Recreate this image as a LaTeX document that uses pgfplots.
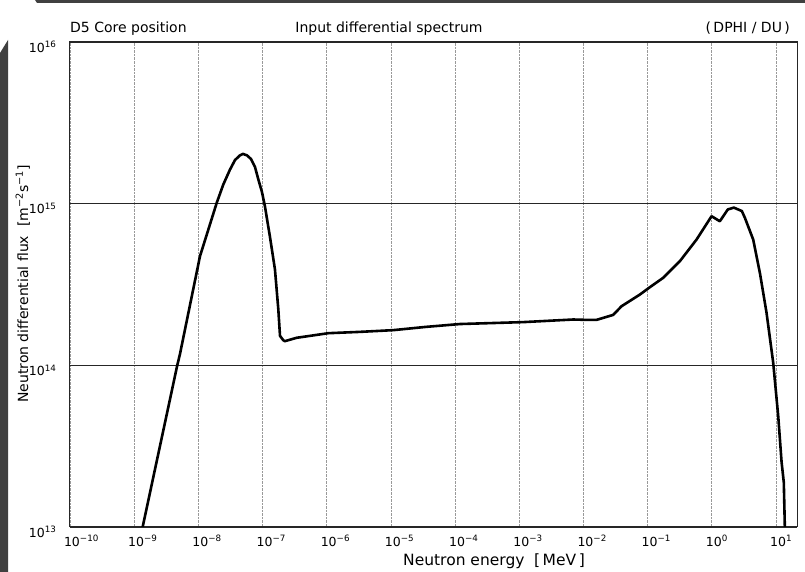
\documentclass[border=0pt]{standalone}
\usepackage{fontspec}
\setmainfont{DejaVu Sans}
\usepackage{pgfplots}
\usepackage{pgfplotstable}
\pgfplotsset{compat=1.18}

% Input differential spectrum, D5 core position (energy in MeV, flux in m^-2 s^-1)
\pgfplotstableread{
E         phi
1.355e-9  1.00e13
4.69e-9   1.00e14
5.16e-9   1.17e14
1.06e-8   4.73e14
1.93e-8   1.01e15
2.44e-8   1.31e15
3.10e-8   1.62e15
3.72e-8   1.86e15
4.45e-8   1.99e15
4.95e-8   2.03e15
5.71e-8   1.99e15
6.59e-8   1.89e15
7.61e-8   1.69e15
8.48e-8   1.44e15
9.79e-8   1.18e15
1.09e-7   9.60e14
1.30e-7   6.28e14
1.56e-7   3.92e14
1.76e-7   2.22e14
1.87e-7   1.52e14
2.10e-7   1.43e14
2.23e-7   1.41e14
3.40e-7   1.48e14
4.31e-7   1.50e14
1.06e-6   1.58e14
3.29e-6   1.61e14
1.09e-5   1.65e14
3.60e-5   1.73e14
1.19e-4   1.80e14
1.15e-3   1.85e14
6.92e-3   1.92e14
1.12e-2   1.91e14
1.60e-2   1.91e14
2.90e-2   2.05e14
3.92e-2   2.32e14
7.57e-2   2.74e14
0.108     3.04e14
0.175     3.48e14
0.318     4.41e14
0.578     6.00e14
0.989     8.36e14
1.33      7.78e14
1.77      9.20e14
2.20      9.45e14
2.93      9.00e14
3.27      8.17e14
4.40      6.00e14
5.60      3.73e14
7.11      2.11e14
9.02      1.04e14
10.8      4.86e13
12.2      2.51e13
13.2      1.89e13
13.7      1.00e13
}\spectrum

% tick label: "10" centred on the tick, exponent hanging to the right
\newcommand\tl[1]{10\rlap{\textsuperscript{#1}}}
\newcommand\lbl{\fontsize{14bp}{16bp}\selectfont}

\begin{document}
\begin{tikzpicture}[x=1bp,y=1bp]
\useasboundingbox (0,0) rectangle (805,572);
% dark scan edges
\fill[black!75] (0,0) -- (8,0) -- (8,532) -- (0,519) -- cycle;
\fill[black!75] (35,572) -- (805,572) -- (805,569) -- (37,569) -- cycle;
\begin{axis}[
  at={(70bp,45bp)}, anchor=south west, scale only axis,
  width=727bp, height=485bp,
  xmode=log, ymode=log,
  xmin=1e-10, xmax=21.2, ymin=1e13, ymax=1e16,
  xtick={1e-10,1e-9,1e-8,1e-7,1e-6,1e-5,1e-4,1e-3,1e-2,1e-1,1,10},
  xticklabels={\tl{−10},\tl{−9},\tl{−8},\tl{−7},\tl{−6},\tl{−5},\tl{−4},\tl{−3},\tl{−2},\tl{−1},\tl{0},\tl{1}},
  ytick={1e13,1e14,1e15,1e16},
  yticklabels={10\textsuperscript{13},10\textsuperscript{14},10\textsuperscript{15},10\textsuperscript{16}},
  major tick length=0pt, minor tick num=0,
  xminorticks=false, yminorticks=false,
  tick label style={font=\fontsize{12.5bp}{14bp}\selectfont},
  xticklabel style={anchor=north, xshift=2bp, yshift=-5bp},
  yticklabel style={anchor=east, xshift=-10bp, yshift=-5bp},
  xmajorgrids, ymajorgrids,
  x grid style={gray!80, densely dotted, line width=0.8bp},
  y grid style={black!85, line width=0.9bp},
  axis line style={black!85, line width=1bp},
  clip=true,
]
\addplot[black, line width=2.6bp, line join=round, line cap=round] table[x=E, y=phi] {\spectrum};
\end{axis}
\node[anchor=base west, inner sep=0] at (70,539) {\lbl D5 Core position};
\node[anchor=base, inner sep=0] at (389,539) {\lbl Input differential spectrum};
\node[anchor=base east, inner sep=0] at (790,539) {\lbl (\,DPHI / DU\,)};
\node[anchor=base west, inner sep=0] at (403,6) {\fontsize{15.5bp}{17bp}\selectfont Neutron energy};
\node[anchor=base east, inner sep=0] at (585,6) {\fontsize{15.5bp}{17bp}\selectfont [\,MeV\,]};
\node[rotate=90, anchor=base, inner sep=0] at (28,288) {\lbl Neutron differential flux\ \ [m\textsuperscript{−2}s\textsuperscript{−1}]};
\end{tikzpicture}
\end{document}
